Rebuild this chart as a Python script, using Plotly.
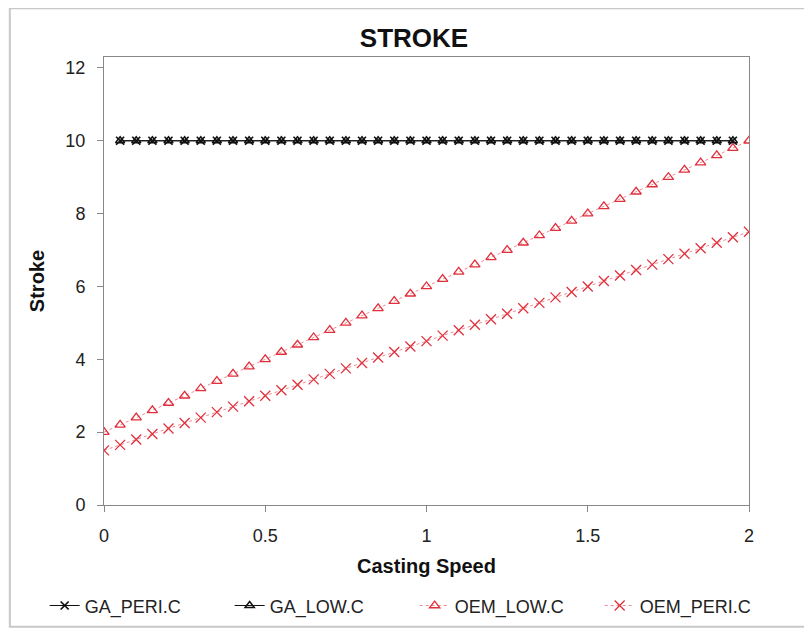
import plotly.graph_objects as go

speed_ga = [0.05, 0.10, 0.15, 0.20, 0.25, 0.30, 0.35, 0.40, 0.45, 0.50,
            0.55, 0.60, 0.65, 0.70, 0.75, 0.80, 0.85, 0.90, 0.95, 1.00,
            1.05, 1.10, 1.15, 1.20, 1.25, 1.30, 1.35, 1.40, 1.45, 1.50,
            1.55, 1.60, 1.65, 1.70, 1.75, 1.80, 1.85, 1.90, 1.95]
ga_peri = [10, 10, 10, 10, 10, 10, 10, 10, 10, 10,
           10, 10, 10, 10, 10, 10, 10, 10, 10, 10,
           10, 10, 10, 10, 10, 10, 10, 10, 10, 10,
           10, 10, 10, 10, 10, 10, 10, 10, 10]
ga_low = [10, 10, 10, 10, 10, 10, 10, 10, 10, 10,
          10, 10, 10, 10, 10, 10, 10, 10, 10, 10,
          10, 10, 10, 10, 10, 10, 10, 10, 10, 10,
          10, 10, 10, 10, 10, 10, 10, 10, 10]

speed_oem = [0.00, 0.05, 0.10, 0.15, 0.20, 0.25, 0.30, 0.35, 0.40, 0.45,
             0.50, 0.55, 0.60, 0.65, 0.70, 0.75, 0.80, 0.85, 0.90, 0.95,
             1.00, 1.05, 1.10, 1.15, 1.20, 1.25, 1.30, 1.35, 1.40, 1.45,
             1.50, 1.55, 1.60, 1.65, 1.70, 1.75, 1.80, 1.85, 1.90, 1.95, 2.00]
oem_low = [2.0, 2.2, 2.4, 2.6, 2.8, 3.0, 3.2, 3.4, 3.6, 3.8,
           4.0, 4.2, 4.4, 4.6, 4.8, 5.0, 5.2, 5.4, 5.6, 5.8,
           6.0, 6.2, 6.4, 6.6, 6.8, 7.0, 7.2, 7.4, 7.6, 7.8,
           8.0, 8.2, 8.4, 8.6, 8.8, 9.0, 9.2, 9.4, 9.6, 9.8, 10.0]
oem_peri = [1.5, 1.65, 1.8, 1.95, 2.1, 2.25, 2.4, 2.55, 2.7, 2.85,
            3.0, 3.15, 3.3, 3.45, 3.6, 3.75, 3.9, 4.05, 4.2, 4.35,
            4.5, 4.65, 4.8, 4.95, 5.1, 5.25, 5.4, 5.55, 5.7, 5.85,
            6.0, 6.15, 6.3, 6.45, 6.6, 6.75, 6.9, 7.05, 7.2, 7.35, 7.5]

x_ticks = [0, 0.5, 1, 1.5, 2]
x_tick_labels = ["0", "0.5", "1", "1.5", "2"]
y_ticks = [0, 2, 4, 6, 8, 10, 12]

FONT = "Liberation Sans, Arial, sans-serif"
RED = "#e0303c"

fig = go.Figure()
fig.add_trace(go.Scatter(
    x=speed_ga, y=ga_peri, name="GA_PERI.C", mode="lines+markers",
    line=dict(color="#111111", width=1),
    marker=dict(symbol="x-thin", size=8, line=dict(color="#111111", width=1.7), color="#111111"),
))
fig.add_trace(go.Scatter(
    x=speed_ga, y=ga_low, name="GA_LOW.C", mode="lines+markers",
    line=dict(color="#111111", width=1),
    marker=dict(symbol="triangle-up-open", size=8, line=dict(color="#111111", width=1.5), color="#111111"),
))
fig.add_trace(go.Scatter(
    x=speed_oem, y=oem_low, name="OEM_LOW.C", mode="lines+markers",
    line=dict(color="#f08a94", width=1, dash="dot"),
    marker=dict(symbol="triangle-up-open", size=9, line=dict(color=RED, width=1.3), color=RED),
))
fig.add_trace(go.Scatter(
    x=speed_oem, y=oem_peri, name="OEM_PERI.C", mode="lines+markers",
    line=dict(color="#f08a94", width=1, dash="dot"),
    marker=dict(symbol="x-thin", size=10, line=dict(color=RED, width=1.3), color=RED),
))

# outer chart frame
fig.add_shape(type="rect", xref="paper", yref="paper",
              x0=-0.146, x1=1.3, y0=-0.272, y1=1.109,
              line=dict(color="#c8c8c8", width=2), layer="below")

fig.update_layout(
    width=812, height=629,
    margin=dict(l=96, r=71, t=49, b=132, autoexpand=False),
    paper_bgcolor="white", plot_bgcolor="white",
    font=dict(family=FONT, size=18, color="#222222"),
    title=dict(text="<b>STROKE</b>", x=0.5, xanchor="center",
               y=1 - 30 / 629, yanchor="middle",
               font=dict(family=FONT, size=26, color="#111111")),
    showlegend=True,
    legend=dict(orientation="h", x=-0.092, xanchor="left", y=-0.225, yanchor="middle",
                font=dict(family=FONT, size=18, color="#222222"),
                entrywidth=140, entrywidthmode="pixels",
                tracegroupgap=0, bgcolor="rgba(0,0,0,0)"),
    xaxis=dict(range=[0, 2], tickvals=x_ticks, ticktext=x_tick_labels,
               showgrid=False, zeroline=False, automargin=False,
               showline=True, linecolor="#888888", linewidth=1, mirror=True,
               ticks="outside", ticklen=6, tickcolor="#888888",
               ticklabelstandoff=8,
               tickfont=dict(family=FONT, size=18, color="#222222"),
               title=dict(text="<b>Casting Speed</b>", standoff=14,
                          font=dict(family=FONT, size=20, color="#111111"))),
    yaxis=dict(range=[0, 12.3], tickvals=y_ticks,
               showgrid=False, zeroline=False, automargin=False,
               showline=True, linecolor="#888888", linewidth=1, mirror=True,
               ticks="outside", ticklen=6, tickcolor="#888888",
               ticklabelstandoff=8,
               tickfont=dict(family=FONT, size=18, color="#222222"),
               title=dict(text="<b>Stroke</b>", standoff=15,
                          font=dict(family=FONT, size=20, color="#111111"))),
)

fig.write_html("out.html")
